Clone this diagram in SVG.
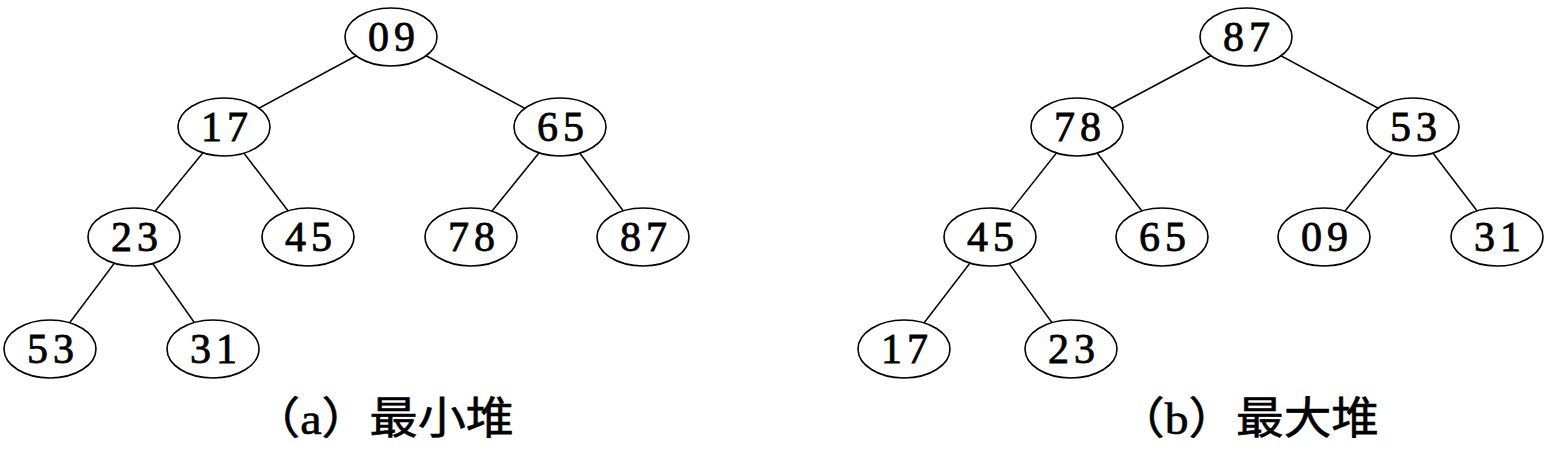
<svg xmlns="http://www.w3.org/2000/svg" width="1555" height="453" viewBox="0 0 1555 453">
<style>
.edge{stroke:#000;stroke-width:1.5;fill:none}
.node ellipse{fill:#fff;stroke:#000;stroke-width:1.6}
.node text{font-family:"Liberation Serif","Times New Roman",serif;font-size:42px;letter-spacing:5px;text-anchor:middle;fill:#000;stroke:#000;stroke-width:0.8}
.cap{font-family:"Liberation Serif","Noto Sans CJK SC",serif;font-size:44px;fill:#000;stroke:#000;stroke-width:0.6}
</style>
<rect width="1555" height="453" fill="#fff"/>
<g id="connectors">
<line class="edge" x1="391" y1="37" x2="224" y2="127"/>
<line class="edge" x1="391" y1="37" x2="560" y2="127"/>
<line class="edge" x1="224" y1="127" x2="134" y2="237"/>
<line class="edge" x1="224" y1="127" x2="308" y2="237"/>
<line class="edge" x1="560" y1="127" x2="471" y2="237"/>
<line class="edge" x1="560" y1="127" x2="643" y2="237"/>
<line class="edge" x1="134" y1="237" x2="50" y2="349"/>
<line class="edge" x1="134" y1="237" x2="213" y2="349"/>
<line class="edge" x1="1246" y1="37" x2="1077" y2="127"/>
<line class="edge" x1="1246" y1="37" x2="1413" y2="127"/>
<line class="edge" x1="1077" y1="127" x2="990" y2="237"/>
<line class="edge" x1="1077" y1="127" x2="1162" y2="237"/>
<line class="edge" x1="1413" y1="127" x2="1324" y2="237"/>
<line class="edge" x1="1413" y1="127" x2="1497" y2="237"/>
<line class="edge" x1="990" y1="237" x2="904" y2="349"/>
<line class="edge" x1="990" y1="237" x2="1071" y2="349"/>
</g>
<g id="a09" class="node"><ellipse cx="391" cy="37" rx="46" ry="29"/><text x="394" y="51">09</text></g>
<g id="a17" class="node"><ellipse cx="224" cy="127" rx="46" ry="29"/><text x="227" y="141">17</text></g>
<g id="a65" class="node"><ellipse cx="560" cy="127" rx="46" ry="29"/><text x="563" y="141">65</text></g>
<g id="a23" class="node"><ellipse cx="134" cy="237" rx="46" ry="29"/><text x="137" y="251">23</text></g>
<g id="a45" class="node"><ellipse cx="308" cy="237" rx="46" ry="29"/><text x="311" y="251">45</text></g>
<g id="a78" class="node"><ellipse cx="471" cy="237" rx="46" ry="29"/><text x="474" y="251">78</text></g>
<g id="a87" class="node"><ellipse cx="643" cy="237" rx="46" ry="29"/><text x="646" y="251">87</text></g>
<g id="a53" class="node"><ellipse cx="50" cy="349" rx="46" ry="29"/><text x="53" y="363">53</text></g>
<g id="a31" class="node"><ellipse cx="213" cy="349" rx="46" ry="29"/><text x="216" y="363">31</text></g>
<g id="b87" class="node"><ellipse cx="1246" cy="37" rx="46" ry="29"/><text x="1249" y="51">87</text></g>
<g id="b78" class="node"><ellipse cx="1077" cy="127" rx="46" ry="29"/><text x="1080" y="141">78</text></g>
<g id="b53" class="node"><ellipse cx="1413" cy="127" rx="46" ry="29"/><text x="1416" y="141">53</text></g>
<g id="b45" class="node"><ellipse cx="990" cy="237" rx="46" ry="29"/><text x="993" y="251">45</text></g>
<g id="b65" class="node"><ellipse cx="1162" cy="237" rx="46" ry="29"/><text x="1165" y="251">65</text></g>
<g id="b09" class="node"><ellipse cx="1324" cy="237" rx="46" ry="29"/><text x="1327" y="251">09</text></g>
<g id="b31" class="node"><ellipse cx="1497" cy="237" rx="46" ry="29"/><text x="1500" y="251">31</text></g>
<g id="b17" class="node"><ellipse cx="904" cy="349" rx="46" ry="29"/><text x="907" y="363">17</text></g>
<g id="b23" class="node"><ellipse cx="1071" cy="349" rx="46" ry="29"/><text x="1074" y="363">23</text></g>
<g id="captions">
<text class="cap" x="252" y="434" textLength="262" lengthAdjust="spacingAndGlyphs">（a）最小堆</text>
<text class="cap" x="1117" y="434" textLength="262" lengthAdjust="spacingAndGlyphs">（b）最大堆</text>
</g>
</svg>
